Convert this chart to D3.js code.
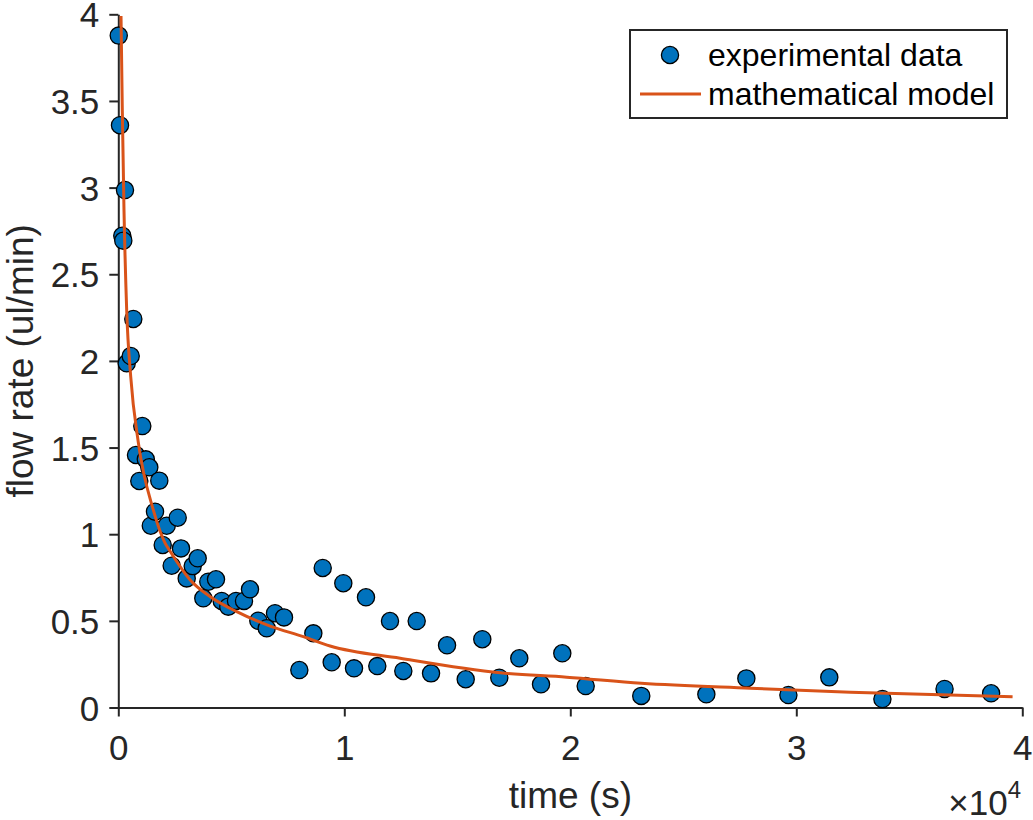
<!DOCTYPE html>
<html>
<head>
<meta charset="utf-8">
<script src="https://cdn.jsdelivr.net/npm/d3@7"></script>
<style>
  body { margin: 0; background: #fff; }
  svg { display: block; }
  text { font-family: 'Liberation Sans', Arial, Helvetica, sans-serif; fill: #262626; }
</style>
</head>
<body>
<script>
// experimental data (time in s, flow rate in ul/min)
var timeData = [20, 75, 177, 221, 296, 372, 549, 664, 783, 929, 1062, 1217, 1372, 1438, 1624, 1814,
  1965, 2142, 2362, 2628, 2774, 3027, 3292, 3513, 3761, 3982, 4323, 4575, 4867, 5208, 5562, 5827,
  6195, 6566, 6934, 7332, 8010, 8630, 9045, 9442, 9956, 10430, 10960, 11460, 12022, 12611, 13203,
  13838, 14546, 15372, 16106, 16858, 17743, 18704, 19646, 20681, 23140, 26020, 27790, 29650, 31460,
  33810, 36560, 38620]
var flowData = [3.877, 3.36, 2.722, 2.694, 2.986, 1.986, 2.028, 2.242, 1.457, 1.307, 1.624, 1.432, 1.386, 1.049, 1.130, 1.309,
  0.938, 1.049, 0.818, 1.095, 0.918, 0.745, 0.816, 0.861, 0.630, 0.726, 0.740, 0.615, 0.582, 0.615, 0.615, 0.682,
  0.501, 0.457, 0.544, 0.520, 0.216, 0.428, 0.805, 0.261, 0.717, 0.226, 0.636, 0.239, 0.499, 0.211, 0.499,
  0.197, 0.359, 0.163, 0.394, 0.172, 0.284, 0.134, 0.313, 0.124, 0.067, 0.076, 0.168, 0.072, 0.174,
  0.049, 0.107, 0.082]

// mathematical model curve
var modelTime = [120, 177, 252, 372, 549, 885, 1549, 2065, 2300, 3180, 4070, 5240, 6720, 8190, 9370,
  12470, 16900, 19840, 23140, 27960, 32390, 39570]
var modelFlow = [3.99, 3.45, 2.87, 2.29, 1.91, 1.53, 1.14, 0.95, 0.90, 0.736, 0.639, 0.553, 0.470, 0.409, 0.355,
  0.284, 0.200, 0.175, 0.140, 0.111, 0.088, 0.062]

var xTicks = [0, 10000, 20000, 30000, 40000]
var yTicks = [0, 0.5, 1, 1.5, 2, 2.5, 3, 3.5, 4]
var seriesNames = ['experimental data', 'mathematical model']

var width = 1033
var height = 820
var ink = '#262626'
var blue = '#0072BD'
var orange = '#D95319'
var tickFont = 35
var labelFont = 37
var legendFont = 32

var x = d3.scaleLinear().domain([0, 40000]).range([118.3, 1022.3])
var y = d3.scaleLinear().domain([0, 4]).range([707.5, 14.3])

var svg = d3.select('body').append('svg')
  .attr('width', width)
  .attr('height', height)

// axes
var xAxis = svg.append('g')
  .attr('transform', 'translate(0,' + y(0) + ')')
  .call(d3.axisBottom(x).tickValues(xTicks).tickSize(9).tickSizeOuter(0)
    .tickFormat(function (d) { return d / 10000 }))
var yAxis = svg.append('g')
  .attr('transform', 'translate(' + x(0) + ',0)')
  .call(d3.axisLeft(y).tickValues(yTicks).tickSize(9).tickSizeOuter(0)
    .tickFormat(function (d) { return String(d) }))

;[xAxis, yAxis].forEach(function (ax) {
  ax.select('.domain').attr('stroke', ink).attr('stroke-width', 2)
  ax.selectAll('.tick line').attr('stroke', ink).attr('stroke-width', 2)
  ax.selectAll('.tick text')
    .style('font-size', tickFont + 'px')
    .attr('fill', ink)
})
xAxis.selectAll('.tick text').attr('y', 52.5).attr('dy', null)
yAxis.selectAll('.tick text').attr('x', -19).attr('dy', '0.36em')

// exponent label
var expo = svg.append('text')
  .attr('x', 1021)
  .attr('y', 815)
  .attr('text-anchor', 'end')
  .style('font-size', tickFont + 'px')
expo.append('tspan').text('\u00d710')
expo.append('tspan').attr('dy', -17).style('font-size', '24px').text('4')

// axis labels
svg.append('text')
  .attr('x', (x(0) + x(40000)) / 2)
  .attr('y', 808)
  .attr('text-anchor', 'middle')
  .style('font-size', labelFont + 'px')
  .text('time (s)')

svg.append('text')
  .attr('transform', 'translate(33,' + (y(0) + y(4)) / 2 + ') rotate(-90)')
  .attr('text-anchor', 'middle')
  .style('font-size', labelFont + 'px')
  .text('flow rate (ul/min)')

// scatter points
var points = d3.zip(timeData, flowData)
svg.append('g').selectAll('circle')
  .data(points)
  .enter().append('circle')
  .attr('cx', function (d) { return x(d[0]) })
  .attr('cy', function (d) { return y(d[1]) })
  .attr('r', 8.6)
  .attr('fill', blue)
  .attr('stroke', '#000')
  .attr('stroke-width', 1.3)

// model line on top
var line = d3.line()
  .x(function (d) { return x(d[0]) })
  .y(function (d) { return y(d[1]) })
  .curve(d3.curveMonotoneX)
svg.append('path')
  .datum(d3.zip(modelTime, modelFlow))
  .attr('d', line)
  .attr('fill', 'none')
  .attr('stroke', orange)
  .attr('stroke-width', 3)

// legend
var legend = svg.append('g')
legend.append('rect')
  .attr('x', 630)
  .attr('y', 30)
  .attr('width', 377)
  .attr('height', 88)
  .attr('fill', '#fff')
  .attr('stroke', ink)
  .attr('stroke-width', 2)
legend.append('circle')
  .attr('cx', 670)
  .attr('cy', 55)
  .attr('r', 8.6)
  .attr('fill', blue)
  .attr('stroke', '#000')
  .attr('stroke-width', 1.3)
legend.append('line')
  .attr('x1', 640)
  .attr('x2', 701)
  .attr('y1', 94)
  .attr('y2', 94)
  .attr('stroke', orange)
  .attr('stroke-width', 3)
legend.selectAll('text.entry')
  .data(seriesNames)
  .enter().append('text')
  .attr('class', 'entry')
  .attr('x', 708)
  .attr('y', function (d, i) { return 66 + i * 39 })
  .style('font-size', legendFont + 'px')
  .style('fill', '#000')
  .text(function (d) { return d })
</script>
</body>
</html>
